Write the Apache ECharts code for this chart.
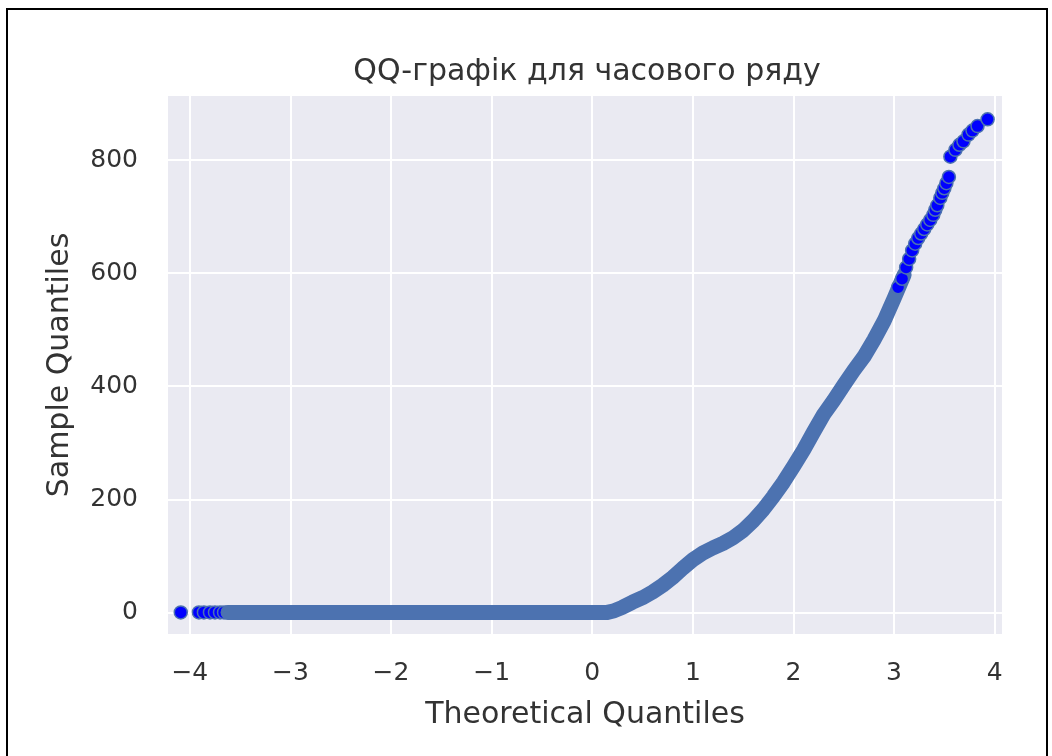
<!DOCTYPE html>
<html>
<head>
<meta charset="utf-8">
<script src="https://cdn.jsdelivr.net/npm/echarts@6/dist/echarts.min.js"></script>
<style>
  html, body { margin: 0; padding: 0; background: #ffffff; }
  #chart { width: 1052px; height: 756px; }
</style>
</head>
<body>
<div id="chart"></div>
<script>
// Lower tail: the few smallest theoretical quantiles, drawn as separate markers
const lowTailQ = [-4.09, -3.91, -3.86, -3.80, -3.75, -3.70, -3.66, -3.62];
const lowTailS = [0, 0, 0, 0, 0, 0, 0, 0];

// Dense body of the QQ cloud (markers overlap into a solid band)
const bandQ = [-3.62, 0.15, 0.22, 0.30, 0.40, 0.50, 0.60, 0.70, 0.80, 0.90,
               1.00, 1.10, 1.20, 1.30, 1.40, 1.50, 1.60, 1.70, 1.80, 1.90,
               2.00, 2.10, 2.20, 2.30, 2.40, 2.50, 2.60, 2.70, 2.80, 2.90,
               3.00, 3.10];
const bandS = [0, 0, 3, 9, 18, 26, 36, 48, 62, 78,
               93, 105, 114, 122, 132, 145, 162, 182, 205, 230,
               258, 287, 319, 350, 375, 402, 428, 452, 482, 515,
               555, 597];

// Upper tail: largest quantiles, markers partly separated
const highTailQ = [3.04, 3.08, 3.12, 3.15, 3.18, 3.21, 3.24, 3.27, 3.30, 3.33,
                   3.36, 3.39, 3.41, 3.43, 3.46, 3.48, 3.50, 3.52, 3.545,
                   3.56, 3.61, 3.65, 3.69, 3.74, 3.78, 3.83, 3.93];
const highTailS = [575, 590, 610, 625, 640, 652, 662, 670, 678, 686,
                   694, 703, 712, 720, 733, 742, 750, 759, 770,
                   806, 818, 827, 833, 845, 852, 860, 872];

const xTickStep = 1;
const yTickStep = 200;

const pairs = (xs, ys) => xs.map((x, i) => [x, ys[i]]);
const FONT = 'DejaVu Sans';
const TEXT = '#333333';
const EDGE = '#4C72B0';
const FACE = '#0000FF';

const chart = echarts.init(document.getElementById('chart'), null, { renderer: 'canvas' });

chart.setOption({
  backgroundColor: '#ffffff',
  animation: false,
  title: {
    text: 'QQ-графік для часового ряду',
    left: 582,
    top: 52,
    textAlign: 'center',
    textStyle: { fontFamily: FONT, fontSize: 30, fontWeight: 'normal', color: TEXT }
  },
  graphic: [{
    type: 'rect',
    silent: true,
    shape: { x: 7, y: 9, width: 1040, height: 800 },
    style: { fill: 'none', stroke: '#000000', lineWidth: 2 }
  }],
  grid: {
    left: 167, right: 49, top: 95, bottom: 121,
    show: true, backgroundColor: '#EAEAF2', borderWidth: 0
  },
  xAxis: {
    type: 'value',
    min: -4.227, max: 4.083,
    minInterval: xTickStep, maxInterval: xTickStep, splitNumber: 8,
    name: 'Theoretical Quantiles',
    nameLocation: 'middle',
    nameGap: 65,
    nameTextStyle: { fontFamily: FONT, fontSize: 30, color: TEXT },
    axisLine: { show: false },
    axisTick: { show: false },
    axisLabel: {
      margin: 26, fontFamily: FONT, fontSize: 25, color: TEXT,
      showMinLabel: false, showMaxLabel: false,
      formatter: v => (v < 0 ? '\u2212' + Math.abs(v) : String(v))
    },
    splitLine: { show: true, lineStyle: { color: '#ffffff', width: 2 } }
  },
  yAxis: {
    type: 'value',
    min: -40, max: 915,
    minInterval: yTickStep, maxInterval: yTickStep, splitNumber: 5,
    name: 'Sample Quantiles',
    nameLocation: 'middle',
    nameGap: 92,
    nameTextStyle: { fontFamily: FONT, fontSize: 30, color: TEXT },
    axisLine: { show: false },
    axisTick: { show: false },
    axisLabel: {
      margin: 29, fontFamily: FONT, fontSize: 25, color: TEXT,
      showMinLabel: false, showMaxLabel: false
    },
    splitLine: { show: true, lineStyle: { color: '#ffffff', width: 2 } }
  },
  series: [
    {
      name: 'low tail',
      type: 'scatter',
      z: 2,
      symbol: 'circle',
      symbolSize: 13,
      data: pairs(lowTailQ, lowTailS),
      itemStyle: { color: FACE, borderColor: EDGE, borderWidth: 1.5, opacity: 1 }
    },
    {
      name: 'body',
      type: 'line',
      z: 3,
      symbol: 'none',
      data: pairs(bandQ, bandS),
      lineStyle: { color: EDGE, width: 15, cap: 'round', join: 'round' }
    },
    {
      name: 'high tail',
      type: 'scatter',
      z: 4,
      symbol: 'circle',
      symbolSize: 13,
      data: pairs(highTailQ, highTailS),
      itemStyle: { color: FACE, borderColor: EDGE, borderWidth: 1.5, opacity: 1 }
    }
  ]
});
</script>
</body>
</html>
